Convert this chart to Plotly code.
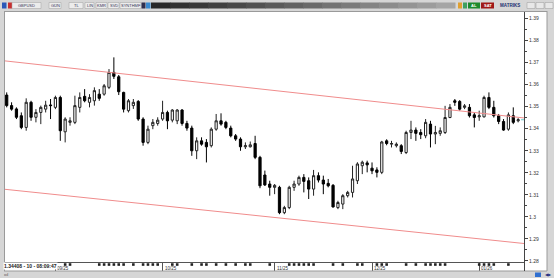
import plotly.graph_objects as go
import pandas as pd

# ---------------- data (GBPUSD daily) ----------------
opens = [1.3553, 1.3505, 1.3490, 1.3459, 1.3406, 1.3520, 1.3452, 1.3474, 1.3489, 1.3508,
         1.3497, 1.3542, 1.3386, 1.3429, 1.3429, 1.3497, 1.3547, 1.3520, 1.3527, 1.3557,
         1.3557, 1.3588, 1.3656, 1.3636, 1.3565, 1.3482,
         1.3505, 1.3524, 1.3444, 1.3338, 1.3414, 1.3424, 1.3444, 1.3474, 1.3439, 1.3436,
         1.3485, 1.3424, 1.3403, 1.3300, 1.3345, 1.3338, 1.3323, 1.3398, 1.3436, 1.3429,
         1.3403, 1.3368, 1.3353, 1.3318, 1.3318, 1.3333, 1.3270,
         1.3190, 1.3149, 1.3134, 1.3134, 1.3019, 1.3042, 1.3134, 1.3149, 1.3179, 1.3164,
         1.3126, 1.3187, 1.3167, 1.3152, 1.3143, 1.3042, 1.3058, 1.3096, 1.3111, 1.3164,
         1.3232, 1.3245, 1.3221, 1.3213, 1.3202, 1.3345,
         1.3330, 1.3323, 1.3323, 1.3292, 1.3383, 1.3394, 1.3383, 1.3368, 1.3421, 1.3376,
         1.3379, 1.3383, 1.3451, 1.3527, 1.3524, 1.3497, 1.3497, 1.3463, 1.3454, 1.3454,
         1.3542, 1.3497, 1.3459, 1.3433, 1.3398, 1.3459, 1.3436]
highs = [1.3565, 1.3520, 1.3497, 1.3474, 1.3538, 1.3527, 1.3489, 1.3505, 1.3527, 1.3535,
         1.3550, 1.3550, 1.3452, 1.3452, 1.3550, 1.3565, 1.3580, 1.3557, 1.3588, 1.3580,
         1.3603, 1.3671, 1.3724, 1.3644, 1.3568, 1.3535,
         1.3535, 1.3530, 1.3452, 1.3414, 1.3444, 1.3452, 1.3527, 1.3482, 1.3489, 1.3489,
         1.3489, 1.3436, 1.3414, 1.3361, 1.3361, 1.3353, 1.3406, 1.3467, 1.3470, 1.3436,
         1.3414, 1.3376, 1.3361, 1.3338, 1.3342, 1.3368, 1.3277,
         1.3210, 1.3164, 1.3149, 1.3141, 1.3050, 1.3141, 1.3164, 1.3187, 1.3194, 1.3179,
         1.3213, 1.3202, 1.3187, 1.3172, 1.3149, 1.3073, 1.3103, 1.3118, 1.3232, 1.3248,
         1.3255, 1.3255, 1.3247, 1.3225, 1.3345, 1.3352,
         1.3345, 1.3338, 1.3330, 1.3391, 1.3436, 1.3406, 1.3398, 1.3444, 1.3436, 1.3413,
         1.3406, 1.3504, 1.3512, 1.3535, 1.3530, 1.3512, 1.3512, 1.3474, 1.3482, 1.3550,
         1.3565, 1.3527, 1.3467, 1.3444, 1.3474, 1.3497, 1.3448]
lows = [1.3497, 1.3482, 1.3444, 1.3398, 1.3391, 1.3436, 1.3429, 1.3421, 1.3474, 1.3444,
        1.3489, 1.3345, 1.3338, 1.3414, 1.3421, 1.3474, 1.3520, 1.3497, 1.3505, 1.3527,
        1.3550, 1.3580, 1.3626, 1.3553, 1.3474, 1.3474,
        1.3490, 1.3436, 1.3323, 1.3330, 1.3398, 1.3414, 1.3436, 1.3398, 1.3429, 1.3421,
        1.3414, 1.3391, 1.3277, 1.3262, 1.3323, 1.3247, 1.3315, 1.3391, 1.3414, 1.3398,
        1.3361, 1.3345, 1.3300, 1.3308, 1.3315, 1.3262, 1.3130,
        1.3140, 1.3096, 1.3103, 1.3012, 1.3012, 1.3035, 1.3118, 1.3141, 1.3111, 1.3081,
        1.3096, 1.3156, 1.3103, 1.3134, 1.3042, 1.3035, 1.3035, 1.3088, 1.3088, 1.3149,
        1.3194, 1.3202, 1.3194, 1.3179, 1.3194, 1.3325,
        1.3315, 1.3315, 1.3285, 1.3285, 1.3353, 1.3345, 1.3353, 1.3357, 1.3315, 1.3330,
        1.3368, 1.3376, 1.3448, 1.3504, 1.3482, 1.3489, 1.3451, 1.3406, 1.3436, 1.3451,
        1.3489, 1.3451, 1.3421, 1.3391, 1.3391, 1.3421, 1.3429]
closes = [1.3505, 1.3489, 1.3452, 1.3406, 1.3520, 1.3452, 1.3474, 1.3497, 1.3507, 1.3505,
          1.3542, 1.3391, 1.3444, 1.3436, 1.3505, 1.3542, 1.3527, 1.3542, 1.3573, 1.3538,
          1.3595, 1.3656, 1.3638, 1.3568, 1.3489, 1.3527,
          1.3520, 1.3444, 1.3338, 1.3398, 1.3429, 1.3439, 1.3474, 1.3436, 1.3485, 1.3485,
          1.3424, 1.3403, 1.3300, 1.3345, 1.3330, 1.3318, 1.3398, 1.3436, 1.3421, 1.3406,
          1.3368, 1.3353, 1.3318, 1.3323, 1.3327, 1.3270, 1.3141,
          1.3145, 1.3134, 1.3143, 1.3019, 1.3042, 1.3134, 1.3149, 1.3179, 1.3161, 1.3126,
          1.3187, 1.3167, 1.3149, 1.3141, 1.3045, 1.3065, 1.3096, 1.3111, 1.3172, 1.3240,
          1.3248, 1.3236, 1.3209, 1.3202, 1.3340, 1.3333,
          1.3333, 1.3330, 1.3297, 1.3383, 1.3394, 1.3379, 1.3373, 1.3429, 1.3376, 1.3383,
          1.3391, 1.3451, 1.3497, 1.3520, 1.3489, 1.3504, 1.3459, 1.3451, 1.3459, 1.3542,
          1.3497, 1.3459, 1.3433, 1.3394, 1.3463, 1.3429, 1.3441]

upper_channel = [1.3708, 1.3449]   # red trend line, left edge -> right edge
lower_channel = [1.3125, 1.2879]
last_price = 1.34408
event_idx = [12, 13, 19, 20, 21, 22, 23, 24, 26, 28, 29, 30, 31, 34, 35, 38, 40, 41, 43,
             45, 47, 49, 50, 54, 58, 59, 60, 61, 62, 63, 67, 69, 72, 73, 76, 77, 78, 82,
             84, 86, 87, 88, 89, 90, 97, 98, 99, 100, 103]
y_range = [1.2795, 1.3930]
x_range = [-0.35, 106.2]

dates = [d for d in pd.bdate_range("2025-08-18", periods=107)
         if d != pd.Timestamp("2025-12-25")][:len(opens)]
x_idx = list(range(len(opens)))
month_ticks = [i for i in range(1, len(dates)) if dates[i].month != dates[i - 1].month]
month_labels = [dates[i].strftime("%m/%y") for i in month_ticks]

# ---------------- geometry helpers ----------------
W, H = 554, 278
ML, MR, MT, MB = 5, 30, 12, 7
PW, PH = W - ML - MR, H - MT - MB
STRIP = 9 / PH


def fx(px):
    return (px - ML) / PW


def fy(py):
    return (H - MB - py) / PH


fig = go.Figure()
fig.add_trace(go.Candlestick(
    x=x_idx, open=opens, high=highs, low=lows, close=closes,
    increasing=dict(line=dict(color="#222222", width=1), fillcolor="#ffffff"),
    decreasing=dict(line=dict(color="#000000", width=1), fillcolor="#000000"),
    whiskerwidth=0, hoverinfo="skip", showlegend=False))
fig.add_trace(go.Scatter(x=x_range, y=upper_channel, mode="lines",
                         line=dict(color="#f08c8c", width=1), hoverinfo="skip", showlegend=False))
fig.add_trace(go.Scatter(x=x_range, y=lower_channel, mode="lines",
                         line=dict(color="#f08c8c", width=1), hoverinfo="skip", showlegend=False))
fig.add_trace(go.Scatter(x=[x_idx[-1] + 0.6, x_range[1]], y=[last_price, last_price], mode="lines",
                         line=dict(color="#5cc6c6", width=1), hoverinfo="skip", showlegend=False))
fig.add_trace(go.Scatter(x=event_idx, y=[0.72] * len(event_idx), yaxis="y2", mode="markers",
                         marker=dict(symbol="square", size=2.6, color="#222222"),
                         hoverinfo="skip", showlegend=False))

shapes = []


def rect(x0, y0, x1, y1, fill, line=None, lw=0):
    shapes.append(dict(type="rect", xref="paper", yref="paper", x0=fx(x0), x1=fx(x1),
                       y0=fy(y1), y1=fy(y0), fillcolor=fill,
                       line=dict(color=line or fill, width=lw), layer="above"))


def hline(x0, x1, y, color, w=1):
    shapes.append(dict(type="line", xref="paper", yref="paper", x0=fx(x0), x1=fx(x1),
                       y0=fy(y), y1=fy(y), line=dict(color=color, width=w), layer="above"))


def vline(x, y0, y1, color, w=1):
    shapes.append(dict(type="line", xref="paper", yref="paper", x0=fx(x), x1=fx(x),
                       y0=fy(y0), y1=fy(y1), line=dict(color=color, width=w), layer="above"))


annotations = []


def text(x, y, s, size=4, color="#333333", anchor="center", bold=False, bg=None, xref="paper"):
    annotations.append(dict(x=fx(x) if xref == "paper" else x, y=fy(y), xref=xref, yref="paper",
                            text=("<b>%s</b>" % s) if bold else s, showarrow=False,
                            xanchor=anchor, yanchor="middle",
                            font=dict(size=size, color=color, family="Liberation Sans"),
                            bgcolor=bg, borderpad=0))


# frame
rect(0, 0, 554, 11, "#d6d6d6")
rect(0, 11, 4, 278, "#d6d6d6")
rect(547, 11, 554, 278, "#d6d6d6")
rect(0, 271, 554, 278, "#d6d6d6")
hline(4, 547, 11.5, "#9a9a9a")
hline(4, 547, 271, "#9a9a9a")
vline(4.5, 11, 271, "#9a9a9a")
vline(547, 11, 271, "#9a9a9a")
vline(524.5, 262, 271, "#444444")

# toolbar
steps = 16
for i in range(steps):
    g = int(40 + (165 - 40) * i / (steps - 1))
    x0 = 151 + (455 - 151) * i / steps
    x1 = 151 + (455 - 151) * (i + 1) / steps + 0.5
    rect(x0, 2.5, x1, 8.5, "rgb(%d,%d,%d)" % (g, g, g))
rect(2, 2.5, 6.5, 8.5, "#2a58b8")
rect(8, 2.5, 12, 8.5, "#c83030")
buttons = [(12, 41, "GBPUSD"), (49, 61, "GÜN"), (69, 83, "TL"), (85, 94, "LIN"),
           (96, 107, "KMR"), (108, 119, "SVD"), (120, 141, "SYNTHMF")]
for b0, b1, s in buttons:
    rect(b0, 2.5, b1, 8.5, "#ececec", "#a0a0a0", 0.5)
    text((b0 + b1) / 2, 5.6, s, size=4, color="#333355")
rect(141.5, 2.5, 145.5, 8.5, "#303050")
rect(146, 2.5, 150.5, 8.5, "#3a8ad0")
rect(458, 2.5, 462, 8.5, "#e0a030")
rect(463, 2.5, 467, 8.5, "#40a060")
rect(468, 2.5, 480, 8.5, "#1e8a2e")
text(474, 5.6, "AL", size=4, color="#ffffff", bold=True)
rect(481, 2.5, 494, 8.5, "#a01818")
text(487.5, 5.6, "SAT", size=4, color="#ffffff", bold=True)
text(510, 5.6, "MATRIKS", size=4.5, color="#203070", bold=True)
for b0 in (527, 536, 545):
    rect(b0, 2.5, b0 + 8, 8.5, "#e8e8e8", "#9a9a9a", 0.5)

# bottom right icons
rect(535, 272.5, 541, 277, "#2f6fd0")
text(548, 274.8, "◀▶", size=4, color="#203080")
text(5.5, 274.8, "ıııl", size=4, color="#444444")

# month labels next to tick marks
for t, lab in zip(month_ticks, month_labels):
    text(t, 268.3, lab, size=4.5, color="#333333", anchor="left", xref="x")
    annotations[-1]["xshift"] = 1
# status text (covers the first month label as in the terminal)
text(2.5, 266.2, "1.34408 - 10 - 08:09:47", size=5, color="#222222", anchor="left", bold=True, bg="#ffffff")

fig.update_layout(
    width=W, height=H,
    margin=dict(l=ML, r=MR, t=MT, b=MB, pad=0),
    paper_bgcolor="#ffffff", plot_bgcolor="#ffffff",
    showlegend=False,
    boxgap=0.35,
    shapes=shapes, annotations=annotations,
    xaxis=dict(range=x_range, showgrid=False, zeroline=False, showline=True,
               linecolor="#555555", linewidth=1, ticks="outside", ticklen=9, tickwidth=1,
               tickcolor="#555555", tickvals=month_ticks, showticklabels=False,
               rangeslider=dict(visible=False), anchor="y", fixedrange=True),
    yaxis=dict(domain=[STRIP, 1], range=y_range, side="right", showgrid=False, zeroline=False,
               showline=True, linecolor="#444444", linewidth=1, ticks="outside", ticklen=3,
               tickcolor="#444444", tick0=1.28, dtick=0.01,
               tickfont=dict(size=5, color="#333333", family="Liberation Sans"),
               minor=dict(ticks="outside", dtick=0.005, ticklen=2, tickcolor="#444444"),
               anchor="x", fixedrange=True),
    yaxis2=dict(domain=[0, STRIP], range=[0, 1], visible=False, anchor="x", fixedrange=True),
)

fig.write_html("out.html")
